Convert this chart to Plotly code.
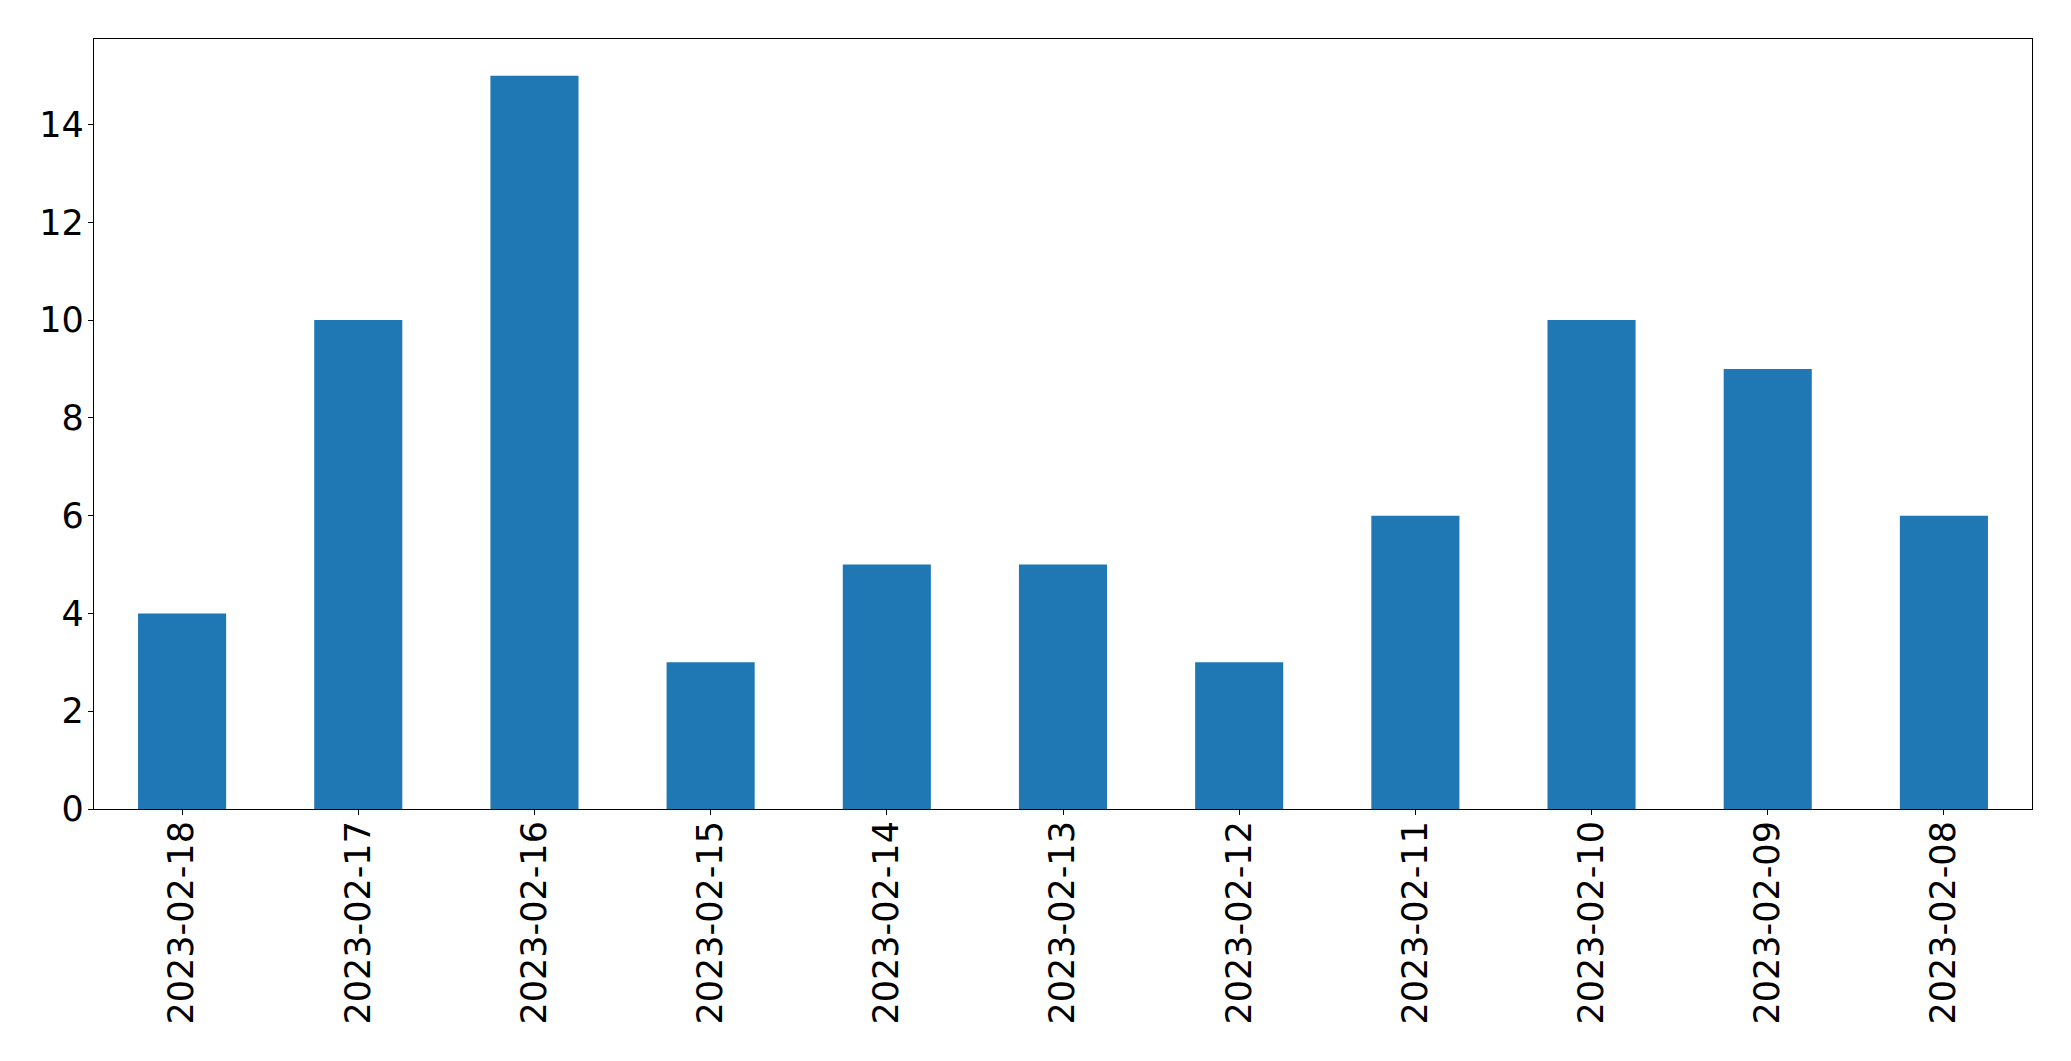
import plotly.graph_objects as go

dates = ["2023-02-18", "2023-02-17", "2023-02-16", "2023-02-15", "2023-02-14",
         "2023-02-13", "2023-02-12", "2023-02-11", "2023-02-10", "2023-02-09", "2023-02-08"]
counts = [4, 10, 15, 3, 5, 5, 3, 6, 10, 9, 6]
y_ticks = [0, 2, 4, 6, 8, 10, 12, 14]

fig = go.Figure(go.Bar(x=dates, y=counts, marker=dict(color="#1f77b4", line=dict(width=0)),
                       width=0.5))

axis_common = dict(showline=True, linecolor="black", linewidth=1.2, mirror=True,
                   showgrid=False, zeroline=False, ticks="outside", ticklen=5,
                   tickwidth=1.2, tickcolor="black",
                   tickfont=dict(family="DejaVu Sans", size=35, color="black"))

fig.update_layout(
    width=2063, height=1053, autosize=False,
    margin=dict(l=86, r=39, t=31, b=252, pad=0),
    paper_bgcolor="white", plot_bgcolor="white",
    showlegend=False,
    xaxis=dict(type="category", range=[-0.5, 10.5], tickangle=-90,
               ticklabelstandoff=-8, **axis_common),
    yaxis=dict(range=[0, 15.75], tickvals=y_ticks, ticktext=[str(v) for v in y_ticks],
               ticklabelstandoff=-3, **axis_common),
)

fig.write_html("out.html")
